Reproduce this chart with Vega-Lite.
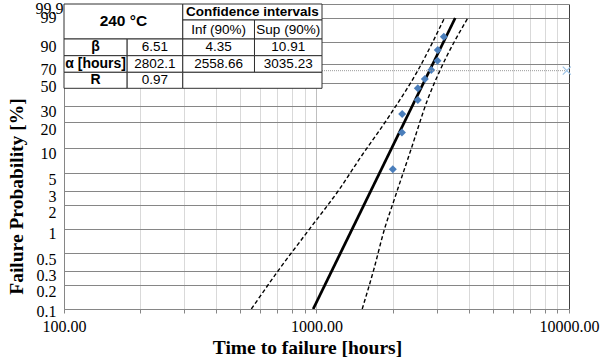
{
  "$schema": "https://vega.github.io/schema/vega-lite/v6.json",
  "width": 505,
  "height": 305,
  "autosize": {"type": "none"},
  "padding": {"left": 64, "top": 4, "right": 33, "bottom": 53},
  "background": "white",
  "config": {"view": {"stroke": null}, "font": "Liberation Serif"},
  "data": {
    "values": [
      {"set": "obs", "t": 2005, "p": 5.6},
      {"set": "obs", "t": 2180, "p": 15.4},
      {"set": "obs", "t": 2185, "p": 24.8},
      {"set": "obs", "t": 2519, "p": 34.8},
      {"set": "obs", "t": 2519, "p": 45.1},
      {"set": "obs", "t": 2685, "p": 54.5},
      {"set": "obs", "t": 2847, "p": 64.0},
      {"set": "obs", "t": 3014, "p": 73.7},
      {"set": "obs", "t": 3022, "p": 83.8},
      {"set": "obs", "t": 3193, "p": 93.1},
      {"set": "fit", "t": 970, "p": 0.1},
      {"set": "fit", "t": 3543, "p": 99},
      {"set": "lower", "t": 552, "p": 0.1},
      {"set": "lower", "t": 714, "p": 0.32},
      {"set": "lower", "t": 938, "p": 1.01},
      {"set": "lower", "t": 1234, "p": 3.19},
      {"set": "lower", "t": 1480, "p": 7.45},
      {"set": "lower", "t": 1946, "p": 23.8},
      {"set": "lower", "t": 2517, "p": 63.2},
      {"set": "lower", "t": 3213, "p": 99},
      {"set": "upper", "t": 1517, "p": 0.1},
      {"set": "upper", "t": 1689, "p": 0.32},
      {"set": "upper", "t": 1859, "p": 1.01},
      {"set": "upper", "t": 2005, "p": 2.08},
      {"set": "upper", "t": 2371, "p": 9.82},
      {"set": "upper", "t": 2760, "p": 35.6},
      {"set": "upper", "t": 3080, "p": 63.2},
      {"set": "upper", "t": 3975, "p": 99},
      {"set": "ref", "t": 100, "p": 63.21},
      {"set": "ref", "t": 9800, "p": 63.21},
      {"set": "marker", "t": 9800, "p": 63.21},
      {"set": "cell", "t": 100, "t2": 295.4, "p": 91.83, "p2": 99.9},
      {"set": "cell", "t": 295.4, "t2": 1051.5, "p": 98.70, "p2": 99.9},
      {"set": "cell", "t": 295.4, "t2": 568.1, "p": 91.83, "p2": 98.70},
      {"set": "cell", "t": 568.1, "t2": 1051.5, "p": 91.83, "p2": 98.70},
      {"set": "cell", "t": 100, "t2": 177.9, "p": 78.64, "p2": 91.83},
      {"set": "cell", "t": 177.9, "t2": 295.4, "p": 78.64, "p2": 91.83},
      {"set": "cell", "t": 295.4, "t2": 568.1, "p": 78.64, "p2": 91.83},
      {"set": "cell", "t": 568.1, "t2": 1051.5, "p": 78.64, "p2": 91.83},
      {"set": "cell", "t": 100, "t2": 177.9, "p": 61.48, "p2": 78.64},
      {"set": "cell", "t": 177.9, "t2": 295.4, "p": 61.48, "p2": 78.64},
      {"set": "cell", "t": 295.4, "t2": 568.1, "p": 61.48, "p2": 78.64},
      {"set": "cell", "t": 568.1, "t2": 1051.5, "p": 61.48, "p2": 78.64},
      {"set": "cell", "t": 100, "t2": 177.9, "p": 45.12, "p2": 61.48},
      {"set": "cell", "t": 177.9, "t2": 295.4, "p": 45.12, "p2": 61.48},
      {"set": "cell", "t": 295.4, "t2": 1051.5, "p": 45.12, "p2": 61.48},
      {"set": "title", "t": 171.9, "p": 98.44, "text": "240 °C"},
      {"set": "head", "t": 557.3, "p": 99.58, "text": "Confidence intervals"},
      {"set": "val", "t": 409.7, "p": 96.30, "text": "Inf (90%)"},
      {"set": "val", "t": 772.9, "p": 96.30, "text": "Sup (90%)"},
      {"set": "lab", "t": 133.4, "p": 86.00, "text": "β"},
      {"set": "val", "t": 229.2, "p": 86.00, "text": "6.51"},
      {"set": "val", "t": 409.7, "p": 86.00, "text": "4.35"},
      {"set": "val", "t": 772.9, "p": 86.00, "text": "10.91"},
      {"set": "lab", "t": 133.4, "p": 70.28, "text": "α [hours]"},
      {"set": "val", "t": 229.2, "p": 70.28, "text": "2802.1"},
      {"set": "val", "t": 409.7, "p": 70.28, "text": "2558.66"},
      {"set": "val", "t": 772.9, "p": 70.28, "text": "3035.23"},
      {"set": "lab", "t": 133.4, "p": 53.07, "text": "R"},
      {"set": "val", "t": 229.2, "p": 53.07, "text": "0.97"}
    ]
  },
  "transform": [
    {"calculate": "-log(1 - datum.p / 100)", "as": "q"},
    {"calculate": "isValid(datum.p2) ? -log(1 - datum.p2 / 100) : null", "as": "q2"}
  ],
  "encoding": {
    "x": {
      "field": "t",
      "type": "quantitative",
      "title": "Time to failure [hours]",
      "scale": {"type": "log", "domain": [100, 10000], "nice": false},
      "axis": {
        "values": [100, 200, 300, 400, 500, 600, 700, 800, 900, 1000, 2000, 3000, 4000, 5000, 6000, 7000, 8000, 9000, 10000],
        "labelExpr": "datum.value == 100 || datum.value == 1000 || datum.value == 10000 ? format(datum.value, '.2f') : ''",
        "labelOverlap": false,
        "labelFlush": false,
        "labelFont": "Liberation Serif",
        "labelFontSize": 16,
        "labelColor": "black",
        "labelPadding": 5,
        "tickSize": 4,
        "tickColor": "#868686",
        "domainColor": "#868686",
        "grid": true,
        "gridColor": {"condition": [{"test": "datum.value == 10000", "value": "#404040"}, {"test": "datum.value == 1000", "value": "#bfbfbf"}], "value": "#d9d9d9"},
        "titleFont": "Liberation Serif",
        "titleFontSize": 19.5,
        "titleFontWeight": "bold",
        "titleColor": "black",
        "titleX": 243,
        "titleY": 38,
        "titleAlign": "center",
        "titleBaseline": "middle"
      }
    },
    "y": {
      "field": "q",
      "type": "quantitative",
      "title": "Failure Probability [%]",
      "scale": {"type": "log", "domain": [0.0010005, 6.90775528], "nice": false},
      "axis": {
        "values": [0.0010005, 0.002002, 0.00300451, 0.00501254, 0.01005034, 0.02020271, 0.03045921, 0.05129329, 0.10536052, 0.22314355, 0.35667494, 0.69314718, 1.2039728, 2.30258509, 4.60517019, 6.90775528],
        "labelExpr": "format(100 * (1 - exp(-datum.value)), '.3~r')",
        "labelOverlap": false,
        "labelFlush": false,
        "labelFont": "Liberation Serif",
        "labelFontSize": 16,
        "labelColor": "black",
        "labelBaseline": "middle",
        "labelOffset": {"condition": [
          {"test": "datum.value > 6", "value": 4},
          {"test": "datum.value > 4 && datum.value < 5", "value": 0},
          {"test": "datum.value > 0.6 && datum.value < 0.8", "value": 3},
          {"test": "datum.value > 0.2 && datum.value < 0.25", "value": 7},
          {"test": "datum.value > 0.05 && datum.value < 0.06", "value": 6},
          {"test": "datum.value > 0.03 && datum.value < 0.031", "value": 5},
          {"test": "datum.value > 0.02 && datum.value < 0.021", "value": 7},
          {"test": "datum.value > 0.01 && datum.value < 0.011", "value": 4},
          {"test": "datum.value > 0.005 && datum.value < 0.0055", "value": 6},
          {"test": "datum.value > 0.0029 && datum.value < 0.0031", "value": 4},
          {"test": "datum.value > 0.0019 && datum.value < 0.0021", "value": 6},
          {"test": "datum.value < 0.0011", "value": 2}
        ], "value": 5},
        "labelPadding": {"condition": {"test": "datum.value > 6", "value": 1}, "value": 8},
        "ticks": false,
        "domainColor": "#868686",
        "grid": true,
        "gridColor": "#868686",
        "titleFont": "Liberation Serif",
        "titleFontSize": 19.5,
        "titleFontWeight": "bold",
        "titleColor": "black",
        "titleX": -48,
        "titleY": 192,
        "titleAlign": "center",
        "titleBaseline": "middle"
      }
    }
  },
  "layer": [
    {
      "transform": [{"filter": "datum.set == 'lower'"}],
      "mark": {"type": "line", "color": "black", "strokeWidth": 1.4, "strokeDash": [4, 2.5], "interpolate": "monotone", "clip": true}
    },
    {
      "transform": [{"filter": "datum.set == 'upper'"}],
      "mark": {"type": "line", "color": "black", "strokeWidth": 1.4, "strokeDash": [4, 2.5], "interpolate": "monotone", "clip": true}
    },
    {
      "transform": [{"filter": "datum.set == 'fit'"}],
      "mark": {"type": "line", "color": "black", "strokeWidth": 2.75, "clip": true}
    },
    {
      "transform": [{"filter": "datum.set == 'obs'"}],
      "mark": {"type": "point", "shape": "diamond", "filled": true, "color": "#4a7ebb", "opacity": 1, "size": 64}
    },
    {
      "transform": [{"filter": "datum.set == 'ref'"}],
      "mark": {"type": "line", "color": "#9a9a9a", "strokeWidth": 1, "strokeDash": [1, 1]}
    },
    {
      "transform": [{"filter": "datum.set == 'marker'"}],
      "mark": {"type": "point", "shape": "M-1,-1L1,1M-1,1L1,-1", "filled": false, "color": "#9dc3e6", "strokeWidth": 1.2, "opacity": 1, "size": 64}
    },
    {
      "transform": [{"filter": "datum.set == 'cell'"}],
      "mark": {"type": "rect", "fill": "white", "stroke": "#303030", "strokeWidth": 1},
      "encoding": {"x2": {"field": "t2"}, "y2": {"field": "q2"}}
    },
    {
      "transform": [{"filter": "datum.set == 'title'"}],
      "mark": {"type": "text", "font": "Liberation Sans", "fontSize": 15.5, "fontWeight": "bold", "color": "black", "align": "center", "baseline": "middle"},
      "encoding": {"text": {"field": "text"}}
    },
    {
      "transform": [{"filter": "datum.set == 'head'"}],
      "mark": {"type": "text", "font": "Liberation Sans", "fontSize": 13.5, "fontWeight": "bold", "color": "black", "align": "center", "baseline": "middle"},
      "encoding": {"text": {"field": "text"}}
    },
    {
      "transform": [{"filter": "datum.set == 'lab'"}],
      "mark": {"type": "text", "font": "Liberation Sans", "fontSize": 14, "fontWeight": "bold", "color": "black", "align": "center", "baseline": "middle"},
      "encoding": {"text": {"field": "text"}}
    },
    {
      "transform": [{"filter": "datum.set == 'val'"}],
      "mark": {"type": "text", "font": "Liberation Sans", "fontSize": 13.5, "color": "black", "align": "center", "baseline": "middle"},
      "encoding": {"text": {"field": "text"}}
    }
  ]
}
